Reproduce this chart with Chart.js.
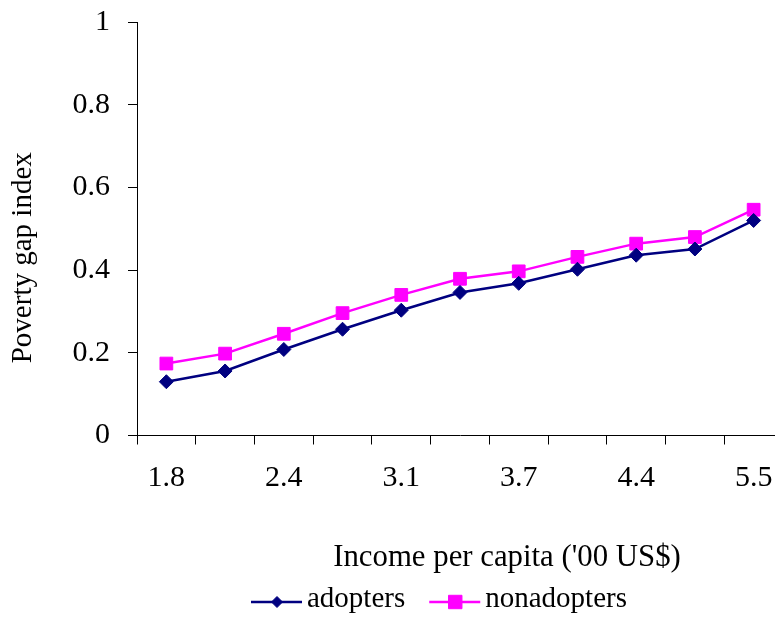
<!DOCTYPE html>
<html>
<head>
<meta charset="utf-8">
<script src="https://cdn.jsdelivr.net/npm/chart.js@4/dist/chart.umd.min.js"></script>
<style>
  html, body { margin: 0; padding: 0; background: #fff; overflow: hidden; }
  #wrap { position: relative; width: 800px; height: 617px; }
</style>
</head>
<body>
<div id="wrap"><canvas id="c"></canvas></div>
<script>
// Income per capita categories ('00 US$); only every other one carries a label
const incomeLabels = ['1.8', '', '2.4', '', '3.1', '', '3.7', '', '4.4', '', '5.5'];
// Poverty gap index by income category
const adopters    = [0.130, 0.156, 0.208, 0.257, 0.303, 0.346, 0.368, 0.402, 0.436, 0.451, 0.520];
const nonadopters = [0.174, 0.198, 0.246, 0.296, 0.340, 0.379, 0.397, 0.432, 0.464, 0.480, 0.546];
const seriesNames = ['adopters', 'nonadopters'];
const yAxisTitle = 'Poverty gap index';
const xAxisTitle = "Income per capita ('00 US$)";
const yMin = 0, yMax = 1, yStep = 0.2;

const SERIF = '"Liberation Serif", "Times New Roman", Times, serif';

// small marker painter used by the legend
function paintMarker(ctx, style, r, x, y) {
  ctx.beginPath();
  if (style === 'rectRot') {
    ctx.moveTo(x - r, y); ctx.lineTo(x, y - r); ctx.lineTo(x + r, y); ctx.lineTo(x, y + r);
  } else {
    const s = Math.SQRT1_2 * r;
    ctx.rect(x - s, y - s, 2 * s, 2 * s);
  }
  ctx.closePath();
  ctx.fill();
  ctx.stroke();
}

// axis captions and the line+marker legend
const captions = {
  id: 'captions',
  afterDraw(chart) {
    const { ctx, chartArea } = chart;
    const midX = (chartArea.left + chartArea.right) / 2;
    const midY = (chartArea.top + chartArea.bottom) / 2;
    ctx.save();
    ctx.fillStyle = '#000';
    ctx.textBaseline = 'middle';
    ctx.textAlign = 'center';

    // vertical axis caption
    ctx.save();
    ctx.font = '29px ' + SERIF;
    ctx.translate(chartArea.left - 113.5, midY + 29);
    ctx.rotate(-Math.PI / 2);
    ctx.fillText(yAxisTitle, 0, 0);
    ctx.restore();

    // horizontal axis caption
    ctx.font = '30.8px ' + SERIF;
    ctx.fillText(xAxisTitle, midX + 47, chartArea.bottom + 122.5);

    // legend
    ctx.font = '29px ' + SERIF;
    ctx.textAlign = 'left';
    let x = chartArea.left + 114;
    const y = chartArea.bottom + 166.5;
    chart.data.datasets.forEach(ds => {
      ctx.strokeStyle = ds.borderColor;
      ctx.lineWidth = ds.borderWidth;
      ctx.beginPath();
      ctx.moveTo(x, y);
      ctx.lineTo(x + 51, y);
      ctx.stroke();
      ctx.fillStyle = ds.pointBackgroundColor;
      ctx.strokeStyle = ds.pointBorderColor;
      ctx.lineWidth = 1;
      paintMarker(ctx, ds.pointStyle, ds.pointStyle === 'rectRot' ? 5.5 : 9.5, x + 26, y);
      ctx.fillStyle = '#000';
      ctx.fillText(ds.label, x + 56, y - 2.5);
      x += 56 + ctx.measureText(ds.label).width + 24;
    });
    ctx.restore();
  }
};

new Chart(document.getElementById('c'), {
  type: 'line',
  data: {
    labels: incomeLabels,
    datasets: [
      {
        label: seriesNames[0],
        data: adopters,
        borderColor: '#000080',
        backgroundColor: '#000080',
        pointBackgroundColor: '#000080',
        pointBorderColor: '#000080',
        borderWidth: 2.5,
        pointStyle: 'rectRot',
        pointRadius: 7,
        pointBorderWidth: 1,
        tension: 0
      },
      {
        label: seriesNames[1],
        data: nonadopters,
        borderColor: '#FF00FF',
        backgroundColor: '#FF00FF',
        pointBackgroundColor: '#FF00FF',
        pointBorderColor: '#FF00FF',
        borderWidth: 2.5,
        pointStyle: 'rect',
        pointRadius: 9,
        pointBorderWidth: 1,
        tension: 0
      }
    ]
  },
  options: {
    responsive: true,
    maintainAspectRatio: false,
    animation: false,
    layout: { padding: { left: 9, right: 17, top: 22, bottom: 105.5 } },
    plugins: {
      legend: { display: false },
      tooltip: { enabled: false }
    },
    scales: {
      x: {
        offset: true,
        grid: { offset: true, drawOnChartArea: false, drawTicks: true, tickLength: 9, color: '#000', lineWidth: 1 },
        border: { color: '#000', width: 1 },
        ticks: {
          autoSkip: false, maxRotation: 0, padding: 15.5, color: '#000',
          font: { family: SERIF, size: 30 }
        }
      },
      y: {
        min: yMin, max: yMax,
        afterFit(scale) {
          scale.width = 128;
          scale.paddingTop = 0;
          scale.paddingBottom = 0;
        },
        grid: { drawOnChartArea: false, drawTicks: true, tickLength: 9, color: '#000', lineWidth: 1 },
        border: { color: '#000', width: 1 },
        ticks: {
          stepSize: yStep, padding: 18, color: '#000',
          font: { family: SERIF, size: 30 },
          callback: v => String(Math.round(v * 10) / 10)
        }
      }
    }
  },
  plugins: [captions]
});
</script>
</body>
</html>
